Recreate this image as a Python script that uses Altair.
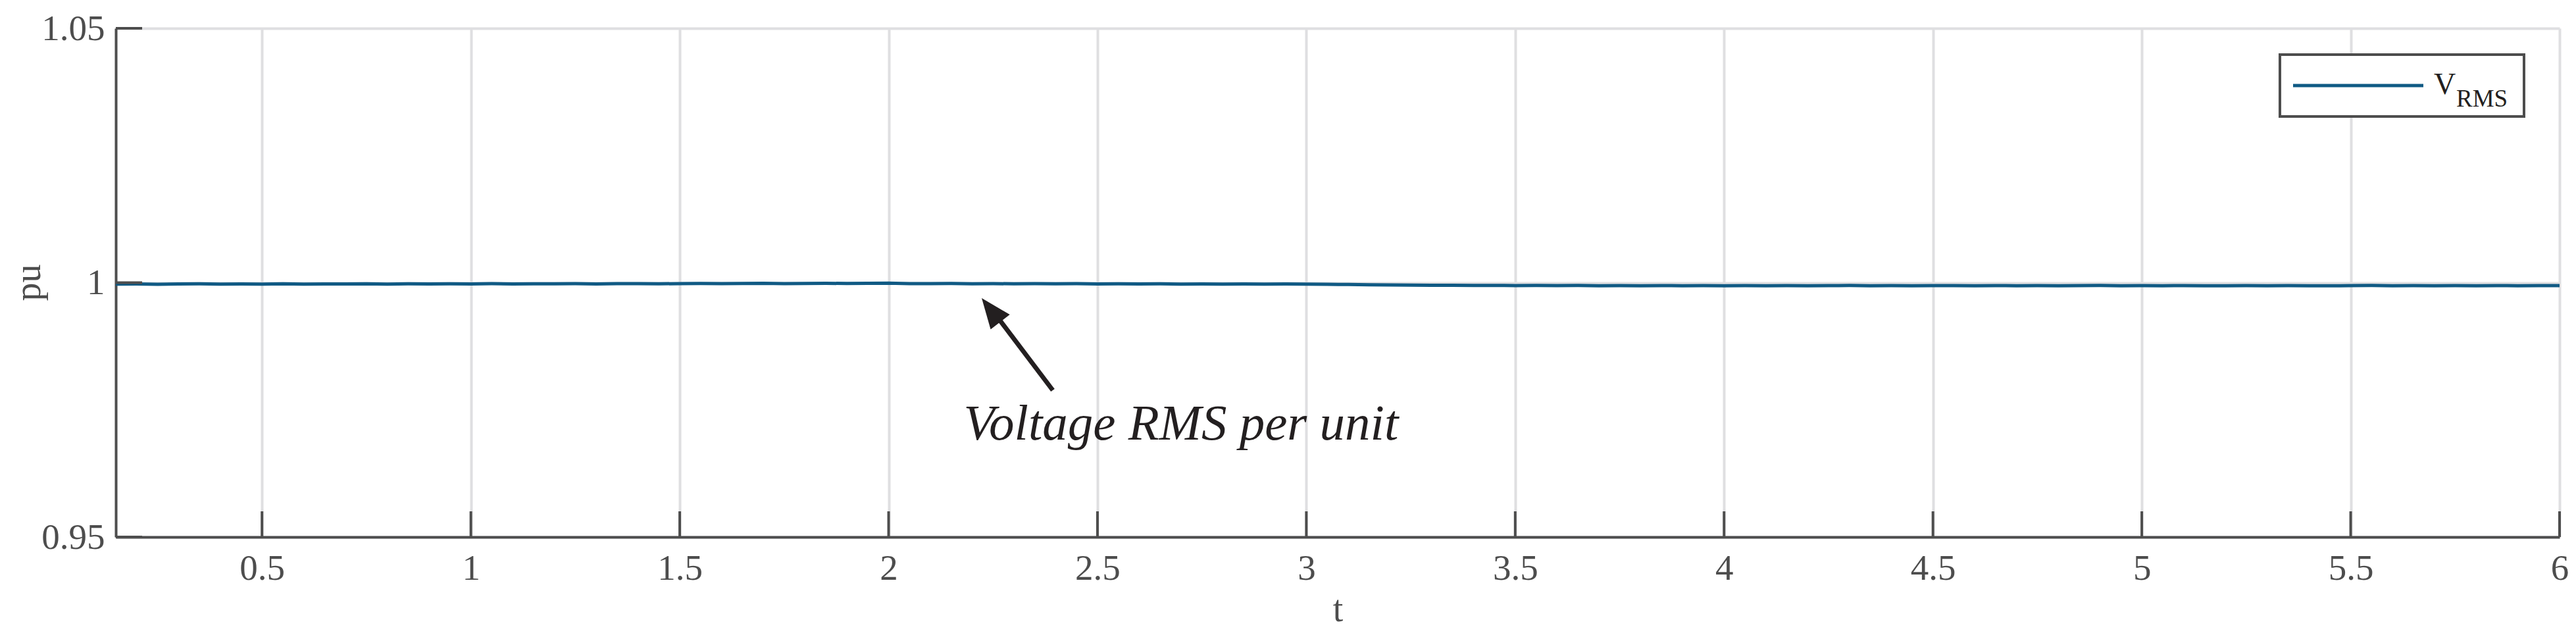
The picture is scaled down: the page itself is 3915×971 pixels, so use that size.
import altair as alt
import pandas as pd

# ---------------- data ----------------
t_start = 0.15
t_step = 0.05
v_rms = [
    0.99972, 0.99975, 0.99969, 0.99973, 0.99976, 0.99970, 0.99974, 0.99972, 0.99977,
    0.99971, 0.99975, 0.99973, 0.99978, 0.99972, 0.99976, 0.99974, 0.99977,
    0.99975, 0.99979, 0.99974, 0.99978, 0.99976, 0.99980, 0.99975, 0.99979, 0.99982, 0.99977,
    0.99981, 0.99984, 0.99979, 0.99983, 0.99987, 0.99981, 0.99985, 0.99988, 0.99983, 0.99986,
    0.99990, 0.99982, 0.99979, 0.99983, 0.99978, 0.99981, 0.99977, 0.99980, 0.99976, 0.99979,
    0.99975, 0.99978, 0.99974, 0.99976, 0.99972, 0.99975, 0.99971, 0.99974, 0.99970, 0.99973,
    0.99972, 0.99968, 0.99963, 0.99959, 0.99955, 0.99952, 0.99949, 0.99947, 0.99944, 0.99946,
    0.99942, 0.99945, 0.99941, 0.99944, 0.99940, 0.99943, 0.99939, 0.99942, 0.99940, 0.99943,
    0.99940, 0.99943, 0.99939, 0.99942, 0.99938, 0.99941, 0.99944, 0.99939, 0.99942, 0.99938,
    0.99941, 0.99943, 0.99939, 0.99942, 0.99940, 0.99943, 0.99938, 0.99941, 0.99944, 0.99940,
    0.99942, 0.99939, 0.99943, 0.99940, 0.99938, 0.99942, 0.99939, 0.99943, 0.99940, 0.99937,
    0.99941, 0.99944, 0.99939, 0.99942, 0.99938, 0.99941, 0.99939, 0.99943, 0.99940, 0.99942,
    0.99941,
]
t_vals = [round(t_start + t_step * i, 2) for i in range(len(v_rms))]

x_ticks = [0.5, 1, 1.5, 2, 2.5, 3, 3.5, 4, 4.5, 5, 5.5, 6]
y_ticks = [0.95, 1.0, 1.05]
x_domain = [0.15, 6.0]
y_domain = [0.95, 1.05]

x_title = "t"
y_title = "pu"
legend_main = "V"
legend_sub = "RMS"

ann_label = ["Voltage RMS per unit"]
ann_t = [2.70]
ann_v = [0.9692]

arrow_tail_t = [2.393]
arrow_tail_v = [0.97885]
arrow_base_t = [2.256]
arrow_base_v = [0.99372]
arrow_head_t = [2.245]
arrow_head_v = [0.99461]

# ---------------- style ----------------
W, H = 3714, 773
SERIF = "'Liberation Serif', 'Times New Roman', Times, 'DejaVu Serif', serif"
AX = "#4d4d4d"
GRID = "#dfdfe1"
BLUE = "#105a84"
TXT = "#231f20"

xscale = alt.Scale(domain=x_domain, nice=False, zero=False)
yscale = alt.Scale(domain=y_domain, nice=False, zero=False)

df = pd.DataFrame({"t": t_vals, "v": v_rms})

x_axis = alt.Axis(
    values=x_ticks, format="~g", title=x_title, grid=True, gridColor=GRID, gridWidth=4,
    gridOpacity=1, domainColor=AX, domainWidth=4, ticks=False, tickSize=0,
    labelFont=SERIF, labelFontSize=55, labelColor=AX, labelPadding=21,
    labelFlush=False, labelOverlap=False,
    titleFont=SERIF, titleFontSize=56, titleFontWeight="normal", titleColor=AX,
    titleY=127, titleBaseline="alphabetic",
)
y_axis = alt.Axis(
    values=y_ticks, format="~g", title=y_title, grid=True, gridColor=GRID, gridWidth=4,
    gridOpacity=1, domainColor=AX, domainWidth=4, ticks=False, tickSize=0,
    labelFont=SERIF, labelFontSize=55, labelColor=AX, labelPadding=17,
    labelFlush=False, labelOverlap=False,
    titleFont=SERIF, titleFontSize=56, titleFontWeight="normal", titleColor=AX,
    titleAngle=270, titleX=-116, titleY=386, titleAlign="center", titleBaseline="alphabetic",
)

line = alt.Chart(df).mark_line(color=BLUE, strokeWidth=5, clip=True).encode(
    x=alt.X("t:Q", scale=xscale, axis=x_axis),
    y=alt.Y("v:Q", scale=yscale, axis=y_axis),
)

xt = alt.Chart(pd.DataFrame({"t": x_ticks})).mark_rule(color=AX, strokeWidth=4).encode(
    x=alt.X("t:Q", scale=xscale), y=alt.value(H), y2=alt.value(H - 39)
)
yt = alt.Chart(pd.DataFrame({"v": y_ticks})).mark_rule(color=AX, strokeWidth=4).encode(
    y=alt.Y("v:Q", scale=yscale), x=alt.value(0), x2=alt.value(40)
)

one = pd.DataFrame({"k": [0]})
leg_box = alt.Chart(one).mark_rect(fill="white", stroke=AX, strokeWidth=4).encode(
    x=alt.value(3289), x2=alt.value(3660), y=alt.value(40), y2=alt.value(134)
)
leg_line = alt.Chart(one).mark_rule(color=BLUE, strokeWidth=5).encode(
    x=alt.value(3309), x2=alt.value(3507), y=alt.value(87)
)
leg_v = alt.Chart(one).mark_text(
    text=legend_main, font=SERIF, fontSize=46, color=TXT, align="left", baseline="alphabetic"
).encode(x=alt.value(3523), y=alt.value(100))
leg_sub = alt.Chart(one).mark_text(
    text=legend_sub, font=SERIF, fontSize=37, color=TXT, align="left", baseline="alphabetic"
).encode(x=alt.value(3557), y=alt.value(119))

ann = alt.Chart(pd.DataFrame({"t": ann_t, "v": ann_v, "label": ann_label})).mark_text(
    font=SERIF, fontStyle="italic", fontSize=77, color=TXT, align="center", baseline="alphabetic"
).encode(x=alt.X("t:Q", scale=xscale), y=alt.Y("v:Q", scale=yscale), text="label:N")

shaft = alt.Chart(pd.DataFrame({
    "t": arrow_tail_t, "v": arrow_tail_v, "t2": arrow_base_t, "v2": arrow_base_v
})).mark_rule(color=TXT, strokeWidth=7).encode(
    x=alt.X("t:Q", scale=xscale), y=alt.Y("v:Q", scale=yscale), x2="t2:Q", y2="v2:Q"
)
head = alt.Chart(pd.DataFrame({"t": arrow_head_t, "v": arrow_head_v})).mark_point(
    shape="M0,-1L0.8,1L-0.8,1Z", filled=True, size=2116, angle=322.3, color=TXT,
    opacity=1, strokeWidth=0
).encode(x=alt.X("t:Q", scale=xscale), y=alt.Y("v:Q", scale=yscale))

chart = alt.layer(line, xt, yt, leg_box, leg_line, leg_v, leg_sub, ann, shaft, head).properties(
    width=W, height=H,
    padding={"left": 168, "top": 35, "right": 17, "bottom": 147},
    autosize=alt.AutoSizeParams(type="none"),
    background="white",
).configure_view(stroke=None)

chart.save("out.html", embed_options={"renderer": "svg", "actions": False})
